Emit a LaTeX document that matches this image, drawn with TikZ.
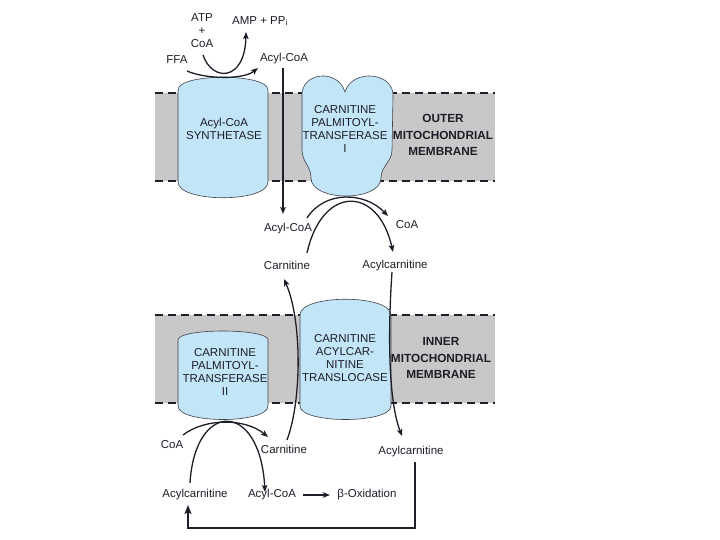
\documentclass[tikz,border=0pt]{standalone}
\usepackage{fontspec}
\setmainfont{Liberation Sans}
\usetikzlibrary{arrows.meta}
\definecolor{memgray}{HTML}{C8C8C8}
\definecolor{protblue}{HTML}{C2E5F7}
\definecolor{ink}{HTML}{1E1E28}
\begin{document}
\begin{tikzpicture}[x=1pt,y=-1pt,
  lbl/.style={font=\fontsize{11.5}{13}\selectfont, text=ink, inner sep=1pt},
  ptxt/.style={font=\fontsize{11.5}{12.8}\selectfont, text=ink, align=center, inner sep=0pt},
  mtxt/.style={font=\fontsize{11.8}{16.5}\selectfont\bfseries, text=ink, align=center, inner sep=0pt},
  prot/.style={fill=protblue, draw=ink!85, line width=0.6pt},
  dashln/.style={dash pattern=on 8pt off 5pt, line width=1.4pt, draw=ink},
  flow/.style={line width=1.3pt, draw=ink, -{Stealth[length=7pt,width=5.5pt,inset=1.5pt]}},
  loopln/.style={line width=2.6pt, draw=ink, line join=miter, -{Stealth[length=9pt,width=7pt,inset=2pt]}}
]
\useasboundingbox (0,0) rectangle (720,540);

% membranes
\fill[memgray] (155,93) rectangle (495,181);
\draw[dashln] (155,93) -- (495,93);
\draw[dashln] (155,181) -- (495,181);
\fill[memgray] (155,315) rectangle (495,403);
\draw[dashln] (155,315) -- (495,315);
\draw[dashln] (155,403) -- (495,403);

% proteins
\path[prot] (178,90) .. controls (178,73) and (268,73) .. (268,90) -- (268,182)
  .. controls (268,203) and (178,203) .. (178,182) -- cycle;
\path[prot] (302,97) .. controls (300,72) and (338,68) .. (345,92)
  .. controls (352,68) and (395,72) .. (393,97) -- (392,150)
  .. controls (392,162) and (381,166) .. (381,178)
  .. controls (381,202) and (311,202) .. (311,178)
  .. controls (311,166) and (302,162) .. (302,150) -- cycle;
\path[prot] (178,340) .. controls (178,328) and (268,328) .. (268,340) -- (268,406)
  .. controls (268,424) and (178,424) .. (178,406) -- cycle;
\path[prot] (300,315) .. controls (300,294) and (391,294) .. (391,315) -- (391,406)
  .. controls (391,424) and (300,424) .. (300,406) -- cycle;

% protein / membrane texts
\node[ptxt] (syn) at (224,129) {Acyl-CoA\\SYNTHETASE};
\node[ptxt] (cpt1) at (345,129) {CARNITINE\\PALMITOYL-\\TRANSFERASE\\I};
\node[mtxt] (outer) at (443,135) {OUTER\\MITOCHONDRIAL\\MEMBRANE};
\node[ptxt] (trl) at (345,358) {CARNITINE\\ACYLCAR-\\NITINE\\TRANSLOCASE};
\node[ptxt] (cpt2) at (225,372) {CARNITINE\\PALMITOYL-\\TRANSFERASE\\II};
\node[mtxt] (inner) at (441,358) {INNER\\MITOCHONDRIAL\\MEMBRANE};

% labels
\node[lbl] (atp) at (202,18) {ATP};
\node[lbl] (plus) at (202,31) {+};
\node[lbl] (coa0) at (202,44) {CoA};
\node[lbl] (amp) at (260,21) {AMP + PP\textsubscript{i}};
\node[lbl] (ffa) at (177,60) {FFA};
\node[lbl] (acyl1) at (284,59) {Acyl-CoA};
\node[lbl] (acyl2) at (288,229) {Acyl-CoA};
\node[lbl] (carn1) at (287,265) {Carnitine};
\node[lbl] (coa1) at (407,225) {CoA};
\node[lbl] (acylc1) at (395,266) {Acylcarnitine};
\node[lbl] (coa2) at (172,445) {CoA};
\node[lbl] (carn2) at (284,449) {Carnitine};
\node[lbl] (acylc2) at (411,452) {Acylcarnitine};
\node[lbl] (acylc3) at (195,495) {Acylcarnitine};
\node[lbl] (acyl3) at (272,495) {Acyl-CoA};
\node[lbl] (box) at (367,495) {β-Oxidation};

% connector end points
\coordinate (ffaS) at (187,71);
\coordinate (ffaE) at (258,68);
\coordinate (coaS) at (203,55);
\coordinate (ampE) at (246,32);
\coordinate (v1) at (283,68);
\coordinate (v2) at (283,214);
\coordinate (c1S) at (307,218);
\coordinate (c1E) at (388,216);
\coordinate (c2S) at (307,253);
\coordinate (c2E) at (393,252);
\coordinate (t1S) at (287,440);
\coordinate (t1E) at (284,279);
\coordinate (t2S) at (392,272);
\coordinate (t2E) at (402,436);
\coordinate (b1S) at (183,435);
\coordinate (b1E) at (268,437);
\coordinate (b2S) at (190,483);
\coordinate (b2E) at (265,492);
\coordinate (oxS) at (303,495);
\coordinate (oxE) at (330,495);
\coordinate (lpS) at (415,462);
\coordinate (lpA) at (415,528);
\coordinate (lpB) at (188,528);
\coordinate (lpE) at (188,505);

% connectors
\draw[flow] (ffaS) .. controls (205,79) and (243,80) .. (ffaE);
\draw[flow] (coaS) .. controls (212,82) and (245,82) .. (ampE);
\draw[flow] (v1) -- (v2);
\draw[flow] (c1S) .. controls (325,190) and (365,192) .. (c1E);
\draw[flow] (c2S) .. controls (322,185) and (378,185) .. (c2E);
\draw[flow] (t1S) .. controls (302,400) and (302,320) .. (t1E);
\draw[flow] (t2S) .. controls (388,330) and (388,400) .. (t2E);
\draw[flow] (b1S) .. controls (205,418) and (245,418) .. (b1E);
\draw[flow] (b2S) .. controls (195,400) and (260,400) .. (b2E);
\draw[flow] (oxS) -- (oxE);
\draw[loopln] (lpS) -- (lpA) -- (lpB) -- (lpE);
\end{tikzpicture}
\end{document}
